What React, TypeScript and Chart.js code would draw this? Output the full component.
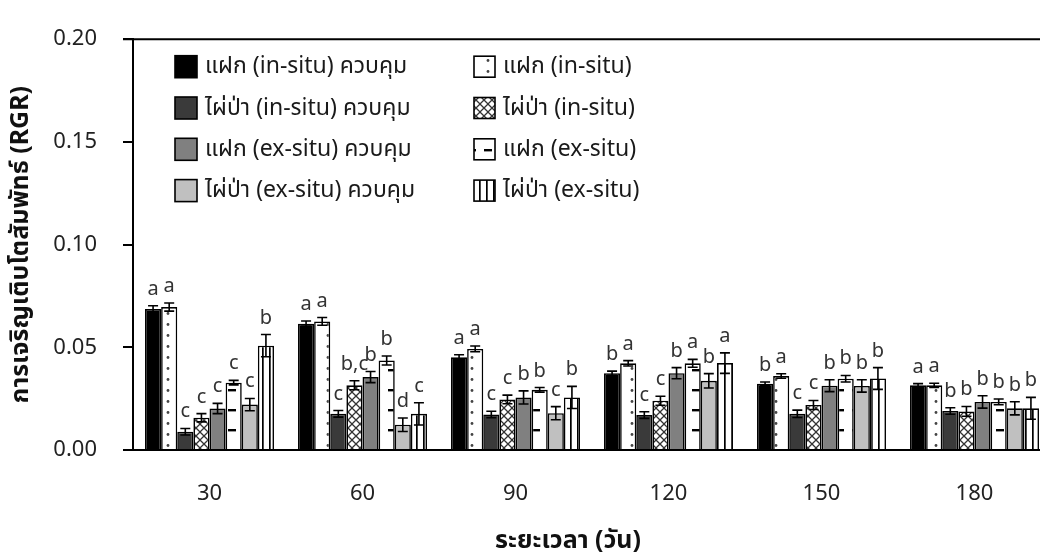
import React, { useEffect, useRef } from "react";
import { Chart, registerables } from "chart.js";

Chart.register(...registerables);

const days = ["30", "60", "90", "120", "150", "180"];

const seriesNames = [
  "แฝก (in-situ) ควบคุม",
  "แฝก (in-situ)",
  "ไผ่ป่า (in-situ) ควบคุม",
  "ไผ่ป่า (in-situ)",
  "แฝก (ex-situ) ควบคุม",
  "แฝก (ex-situ)",
  "ไผ่ป่า (ex-situ) ควบคุม",
  "ไผ่ป่า (ex-situ)",
];

const xTitle = "ระยะเวลา (วัน)";
const yTitle = "การเจริญเติบโตสัมพัทธ์ (RGR)";

const vetiverInCtrl = [0.0687, 0.0615, 0.0451, 0.0374, 0.0323, 0.0315];
const vetiverInCtrlErr = [0.0015, 0.0013, 0.0013, 0.001, 0.0008, 0.0008];
const vetiverInCtrlLetters = ["a", "a", "a", "b", "b", "a"];

const vetiverIn = [0.0696, 0.0626, 0.0492, 0.0422, 0.036, 0.0315];
const vetiverInErr = [0.002, 0.0019, 0.0014, 0.0013, 0.0011, 0.001];
const vetiverInLetters = ["a", "a", "a", "a", "a", "a"];

const bambooInCtrl = [0.0089, 0.0176, 0.0173, 0.017, 0.0176, 0.019];
const bambooInCtrlErr = [0.0016, 0.0016, 0.0016, 0.0016, 0.0018, 0.0016];
const bambooInCtrlLetters = ["c", "c", "c", "c", "c", "b"];

const bambooIn = [0.0157, 0.0315, 0.0246, 0.024, 0.0219, 0.0188];
const bambooInErr = [0.002, 0.0022, 0.0021, 0.0022, 0.0022, 0.0024];
const bambooInLetters = ["c", "b,c", "c", "c", "c", "b"];

const vetiverExCtrl = [0.0202, 0.0355, 0.0256, 0.0374, 0.0313, 0.0234];
const vetiverExCtrlErr = [0.0025, 0.0027, 0.0032, 0.0027, 0.0029, 0.003];
const vetiverExCtrlLetters = ["c", "b", "b", "b", "b", "b"];

const vetiverEx = [0.0328, 0.0436, 0.0293, 0.0422, 0.0347, 0.0234];
const vetiverExErr = [0.0011, 0.0022, 0.0011, 0.0019, 0.0016, 0.0014];
const vetiverExLetters = ["c", "b", "b", "a", "b", "b"];

const bambooExCtrl = [0.0221, 0.0123, 0.0179, 0.0337, 0.0312, 0.0203];
const bambooExCtrlErr = [0.003, 0.0033, 0.0032, 0.0035, 0.003, 0.0032];
const bambooExCtrlLetters = ["c", "d", "c", "b", "b", "b"];

const bambooEx = [0.0508, 0.0176, 0.0256, 0.0423, 0.0348, 0.0203];
const bambooExErr = [0.0054, 0.0054, 0.0054, 0.005, 0.0053, 0.0053];
const bambooExLetters = ["b", "c", "b", "a", "b", "b"];

const yTicks = [0, 0.05, 0.1, 0.15, 0.2];

const FONT = "'Noto Sans', 'Noto Sans Thai', 'Leelawadee UI', Tahoma, sans-serif";

function makeTile(w: number, h: number, draw: (c: CanvasRenderingContext2D) => void) {
  const cv = document.createElement("canvas");
  cv.width = w;
  cv.height = h;
  const c = cv.getContext("2d")!;
  c.fillStyle = "#ffffff";
  c.fillRect(0, 0, w, h);
  draw(c);
  const ctx = document.createElement("canvas").getContext("2d")!;
  return ctx.createPattern(cv, "repeat")!;
}

function makeFills() {
  const dots = makeTile(16, 11, (c) => {
    c.fillStyle = "#444";
    c.beginPath();
    c.arc(8, 5.5, 1.4, 0, Math.PI * 2);
    c.fill();
  });
  const cross = makeTile(8, 8, (c) => {
    c.strokeStyle = "#333";
    c.lineWidth = 1.3;
    c.beginPath();
    c.moveTo(-1, -1);
    c.lineTo(9, 9);
    c.moveTo(-1, 9);
    c.lineTo(9, -1);
    c.stroke();
  });
  const hdash = makeTile(16, 20, (c) => {
    c.fillStyle = "#000";
    c.fillRect(4, 9, 8, 2.4);
  });
  const vstripe = makeTile(7, 8, (c) => {
    c.fillStyle = "#000";
    c.fillRect(3, 0, 1.7, 8);
  });
  return { dots, cross, hdash, vstripe };
}

export default function App() {
  const ref = useRef<HTMLCanvasElement>(null);

  useEffect(() => {
    const f = makeFills();
    const values = [vetiverInCtrl, vetiverIn, bambooInCtrl, bambooIn, vetiverExCtrl, vetiverEx, bambooExCtrl, bambooEx];
    const errs = [vetiverInCtrlErr, vetiverInErr, bambooInCtrlErr, bambooInErr, vetiverExCtrlErr, vetiverExErr, bambooExCtrlErr, bambooExErr];
    const letters = [vetiverInCtrlLetters, vetiverInLetters, bambooInCtrlLetters, bambooInLetters, vetiverExCtrlLetters, vetiverExLetters, bambooExCtrlLetters, bambooExLetters];
    const fills: any[] = ["#000000", f.dots, "#3a3a3a", f.cross, "#808080", f.hdash, "#c0c0c0", f.vstripe];

    const extras = {
      id: "extras",
      afterDatasetsDraw(chart: any) {
        const ctx = chart.ctx;
        const ys = chart.scales.y;
        ctx.save();
        chart.data.datasets.forEach((ds: any, i: number) => {
          const meta = chart.getDatasetMeta(i);
          meta.data.forEach((el: any, j: number) => {
            const v = values[i][j];
            const e = errs[i][j];
            const yt = ys.getPixelForValue(v + e);
            const yb = ys.getPixelForValue(v - e);
            ctx.strokeStyle = "#000";
            ctx.lineWidth = 1.6;
            ctx.beginPath();
            ctx.moveTo(el.x, yt);
            ctx.lineTo(el.x, yb);
            ctx.moveTo(el.x - 5, yt);
            ctx.lineTo(el.x + 5, yt);
            ctx.moveTo(el.x - 5, yb);
            ctx.lineTo(el.x + 5, yb);
            ctx.stroke();
            ctx.fillStyle = "#333";
            ctx.font = `20px ${FONT}`;
            ctx.textAlign = "center";
            ctx.textBaseline = "alphabetic";
            ctx.fillText(letters[i][j], el.x, yt - 11);
          });
        });
        ctx.restore();
      },
      afterDraw(chart: any) {
        const ctx = chart.ctx;
        const a = chart.chartArea;
        ctx.save();
        // top frame line
        ctx.strokeStyle = "#000";
        ctx.lineWidth = 2;
        ctx.beginPath();
        ctx.moveTo(a.left - 10, a.top);
        ctx.lineTo(a.right, a.top);
        ctx.stroke();
        // legend
        const colX = [a.left + 42, a.left + 341];
        const rowY0 = a.top + 27.5;
        const rowStep = 41.3;
        chart.data.datasets.forEach((ds: any, i: number) => {
          const col = i % 2;
          const row = Math.floor(i / 2);
          const bx = colX[col];
          const cy = rowY0 + row * rowStep;
          const size = col === 0 ? 22 : 21;
          ctx.fillStyle = ds.backgroundColor;
          ctx.fillRect(bx, cy - size / 2, size, size);
          ctx.strokeStyle = "#000";
          ctx.lineWidth = 1.6;
          ctx.strokeRect(bx, cy - size / 2, size, size);
          ctx.fillStyle = "#1a1a1a";
          ctx.font = `23px ${FONT}`;
          ctx.textAlign = "left";
          ctx.textBaseline = "middle";
          ctx.fillText(ds.label, bx + size + 8, cy);
        });
        // x axis title
        ctx.fillStyle = "#111";
        ctx.font = `bold 25px ${FONT}`;
        ctx.textAlign = "center";
        ctx.textBaseline = "middle";
        ctx.fillText(xTitle, 568, 541);
        ctx.restore();
      },
    };

    const chart = new Chart(ref.current!, {
      type: "bar",
      data: {
        labels: days,
        datasets: values.map((vals, i) => ({
          label: seriesNames[i],
          data: vals,
          backgroundColor: fills[i],
          borderColor: "#000",
          borderWidth: 1.6,
          borderSkipped: "bottom",
          barPercentage: 1.0,
          categoryPercentage: 0.843,
        })),
      },
      options: {
        animation: false,
        responsive: false,
        layout: { padding: { top: 33, right: 19, left: 0, bottom: 0 } },
        plugins: {
          legend: { display: false },
          tooltip: { enabled: false },
        },
        scales: {
          x: {
            grid: { display: false, drawTicks: false },
            border: { display: true, color: "#000", width: 2 },
            ticks: { color: "#222", font: { size: 22, family: FONT }, padding: 31 },
            title: { display: false },
            afterFit(scale: any) {
              scale.height = 103;
            },
          },
          y: {
            min: 0,
            max: 0.2,
            afterBuildTicks(scale: any) {
              scale.ticks = yTicks.map((v) => ({ value: v }));
            },
            grid: { display: true, drawOnChartArea: false, drawTicks: true, tickLength: 10, color: "#000", lineWidth: 2 },
            border: { display: true, color: "#000", width: 2 },
            ticks: {
              color: "#222",
              font: { size: 22, family: FONT },
              padding: 26,
              callback: (v: any) => Number(v).toFixed(2),
            },
            title: {
              display: true,
              text: yTitle,
              color: "#111",
              font: { size: 25, weight: "bold", family: FONT },
              padding: { top: 6, bottom: 0 },
            },
            afterFit(scale: any) {
              scale.width = 133;
            },
          },
        },
      },
      plugins: [extras],
    });
    return () => chart.destroy();
  }, []);

  return (
    <div style={{ position: "fixed", left: 0, top: 0, width: 1040, height: 553, overflow: "hidden", background: "#fff" }}>
      <canvas ref={ref} width={1070} height={553} style={{ display: "block" }} />
    </div>
  );
}
